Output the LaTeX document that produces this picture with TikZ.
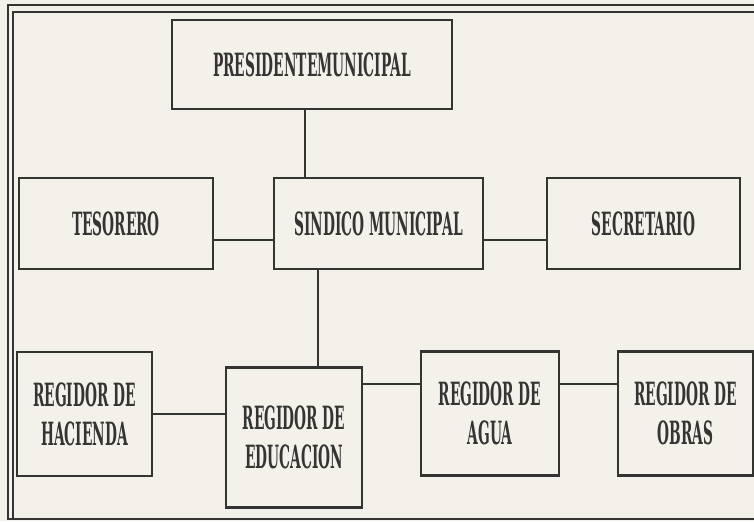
\documentclass[tikz,border=0pt]{standalone}
\usepackage{fontspec}
\usepackage{tikz}
\usetikzlibrary{positioning,calc}
\newfontfamily\orgfont[FakeStretch=0.43,UprightFont=*,BoldFont=* Bold]{DejaVu Serif}
\definecolor{paper}{RGB}{243,241,234}
\definecolor{ink}{RGB}{52,52,50}

\begin{document}
\begin{tikzpicture}[x=0.5pt,y=-0.5pt,
    box/.style={draw=ink,line width=1.3pt,fill=paper,align=center,inner sep=0pt,
        font=\orgfont\bfseries\fontsize{16}{19.5}\selectfont,text=ink},
    link/.style={draw=ink,line width=1.3pt}]
    % paper and frame
    \useasboundingbox (0,0) rectangle (754,521);
    \fill[paper] (0,0) rectangle (754,521);
    \draw[ink,line width=0.8pt] (760,5) -- (8,5) -- (8,519) -- (760,519);
    \draw[ink,line width=0.8pt] (760,12) -- (13,12) -- (13,519);

    % top rows
    \node[box,minimum width=140pt,minimum height=44.5pt] (pres) at (312,64.5) {PRESIDENTEMUNICIPAL};
    \node[box,minimum width=97pt,minimum height=45.5pt] (tes) at (116,223.5) {TESORERO};
    \node[box,minimum width=104.5pt,minimum height=45.5pt] (sind) at (378.5,223.5) {SINDICO MUNICIPAL};
    \node[box,minimum width=96.5pt,minimum height=45.5pt] (secr) at (643.5,223.5) {SECRETARIO};

    % regidores
    \node[box,minimum width=67.5pt,minimum height=62pt] (hac) at (84.5,414) {REGIDOR DE\\HACIENDA};
    \node[box,minimum width=68pt,minimum height=70pt] (educ) at (294,437.5) {REGIDOR DE\\EDUCACION};
    \node[box,minimum width=69pt,minimum height=62pt] (agua) at (490,413.5) {REGIDOR DE\\AGUA};
    \node[box,minimum width=67.5pt,minimum height=62pt] (obras) at (685.5,413.5) {REGIDOR DE\\OBRAS};

    % connectors
    \draw[link] ([xshift=-3.5pt]pres.south) -- ([xshift=-3.5pt]pres.south |- sind.north);
    \draw[link] ([yshift=-8.25pt]tes.east) -- ([yshift=-8.25pt]tes.east -| sind.west);
    \draw[link] ([yshift=-8.25pt]sind.east) -- ([yshift=-8.25pt]sind.east -| secr.west);
    \draw[link] ([xshift=-30.25pt]sind.south) -- ([xshift=-30.25pt]sind.south |- educ.north);
    \draw[link] (hac.east) -- (hac.east -| educ.west);
    \draw[link] ([yshift=14.75pt]agua.west) -- ([yshift=14.75pt]agua.west -| educ.east);
    \draw[link] ([yshift=14.75pt]agua.east) -- ([yshift=14.75pt]agua.east -| obras.west);
\end{tikzpicture}
\end{document}
